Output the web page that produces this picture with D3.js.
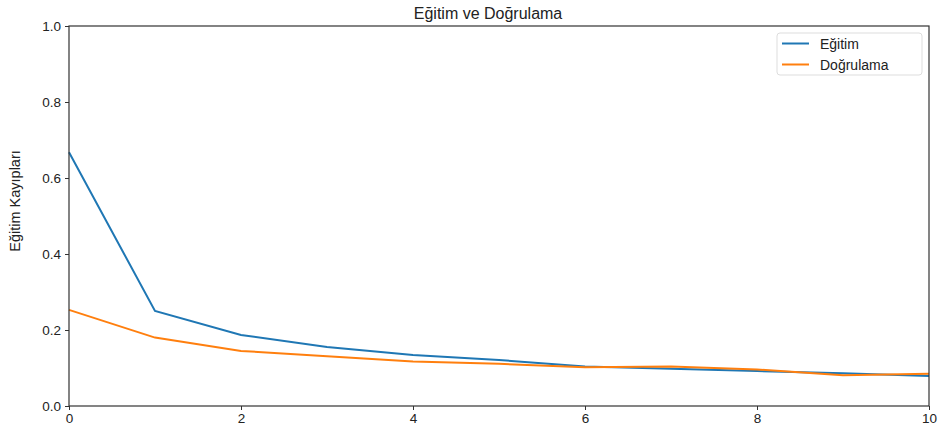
<!DOCTYPE html>
<html>
<head>
<meta charset="utf-8">
<script src="https://cdn.jsdelivr.net/npm/d3@7"></script>
<style>
  body { margin: 0; background: #fff; }
  text { font-family: "Liberation Sans", Arial, sans-serif; fill: #222; }
</style>
</head>
<body>
<svg id="chart" width="938" height="429"></svg>
<script>
// ====== Data ======
const epochs = [0, 1, 2, 3, 4, 5, 6, 7, 8, 9, 10];
const egitim = [0.668, 0.250, 0.187, 0.155, 0.134, 0.121, 0.104, 0.098, 0.092, 0.086, 0.079];
const dogrulama = [0.253, 0.180, 0.145, 0.131, 0.117, 0.111, 0.102, 0.104, 0.096, 0.081, 0.085];
const xTicks = [0, 2, 4, 6, 8, 10];
const yTicks = [0, 0.2, 0.4, 0.6, 0.8, 1.0];

const series = [
  { name: "Eğitim", values: egitim, color: "#1f77b4" },
  { name: "Doğrulama", values: dogrulama, color: "#ff7f0e" },
];

// ====== Layout ======
const margin = { left: 69, right: 9, top: 26, bottom: 23 };
const W = 938, H = 429;
const FONT = "Liberation Sans, Arial, sans-serif";
const svg = d3.select("#chart");

const x = d3.scaleLinear().domain([0, 10]).range([margin.left, W - margin.right]);
const y = d3.scaleLinear().domain([0, 1]).range([H - margin.bottom, margin.top]);

// Líneas
const line = d3.line().x((d, i) => x(epochs[i])).y(d => y(d));
svg.append("g")
  .selectAll("path")
  .data(series)
  .join("path")
  .attr("fill", "none")
  .attr("stroke", d => d.color)
  .attr("stroke-width", 2)
  .attr("d", d => line(d.values));

// Ejes
const xAxis = svg.append("g")
  .attr("transform", `translate(0,${H - margin.bottom})`)
  .call(d3.axisBottom(x).tickValues(xTicks).tickSize(4).tickPadding(3).tickFormat(d3.format("d")));
const yAxis = svg.append("g")
  .attr("transform", `translate(${margin.left},0)`)
  .call(d3.axisLeft(y).tickValues(yTicks).tickSize(4).tickPadding(4).tickFormat(d3.format(".1f")));

[xAxis, yAxis].forEach(a => {
  a.selectAll("text").style("font-size", "13.5px").style("font-family", FONT).attr("fill", "#222");
  a.selectAll("line").attr("stroke", "#333");
  a.select(".domain").remove();
});

// Marco
svg.append("rect")
  .attr("x", margin.left).attr("y", margin.top)
  .attr("width", W - margin.right - margin.left)
  .attr("height", H - margin.bottom - margin.top)
  .attr("fill", "none").attr("stroke", "#333").attr("stroke-width", 1.2);

// Título
svg.append("text")
  .attr("x", 488).attr("y", 19)
  .attr("text-anchor", "middle").style("font-size", "16px")
  .text("Eğitim ve Doğrulama");

// Etiqueta Y
svg.append("text")
  .attr("transform", `translate(20,201) rotate(-90)`)
  .attr("text-anchor", "middle").style("font-size", "14.5px")
  .text("Eğitim Kayıpları");

// Leyenda
const lg = svg.append("g").attr("transform", "translate(777,33)");
lg.append("rect")
  .attr("width", 145).attr("height", 42).attr("rx", 3)
  .attr("fill", "#fff").attr("stroke", "#ddd");
series.forEach((s, i) => {
  const row = lg.append("g").attr("transform", `translate(5,${10.5 + i * 21})`);
  row.append("line").attr("x1", 0).attr("x2", 27).attr("stroke", s.color).attr("stroke-width", 2);
  row.append("text").attr("x", 38).attr("y", 5.5).style("font-size", "14px").text(s.name);
});
</script>
</body>
</html>
